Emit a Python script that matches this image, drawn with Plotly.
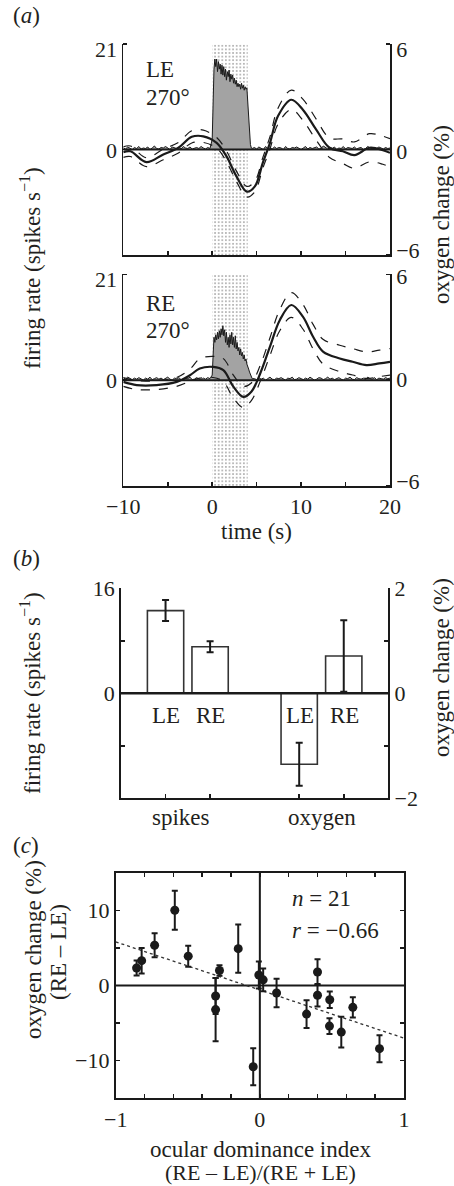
import numpy as np
import plotly.graph_objects as go

W, H = 454, 1186
FONT = "Liberation Serif"
TXT = "#231f20"

def X(px):
    return px / W

def Y(py):
    return 1 - py / H

# ---------------- Panel (a) data ----------------
# spike-rate histograms (spikes/s)
le_pre = [0.3,0.1,0.5,0.2,0.0,0.4,0.2,0.6,0.1,0.3,0.2,0.5,0.0,0.3,0.7,0.2,0.1,0.4,0.3,0.6,
          0.2,0.0,0.5,0.3,0.2,0.4,0.1,0.6,0.3,0.2,0.5,0.1,0.3,0.4,0.2,0.6,0.3,0.1,0.4,0.2]
le_stim = [2,10,16,18,16.5,18,15.5,17.5,16,17,15,16.8,14.8,16.5,14.5,16,13.8,15.5,14.5,15.8,
           13.5,15,14,14.8,13.2,14.2,13,13.8,12.5,13.2,12.5,13,12,13.2,12.2,12.8,11.8,12.5,12,12.3,
           9,6,3.5,1,0.3]
le_post = [0.2,0.4,0.1,0.5,0.3,0.0,0.6,0.2,0.3,0.1,0.5,0.2,0.4,0.3,0.0,0.6,0.2,0.1,0.4,0.3,
           0.5,0.2,0.0,0.3,0.6,0.1,0.4,0.2,0.3,0.5,0.1,0.2,0.7,0.3,0.1,0.4,0.2,0.5,0.0,0.3,
           0.2,0.6,0.1,0.4,0.3,0.2,0.5,0.1,0.3,0.4,0.0,0.2,0.6,0.3,0.1,0.4,0.2,0.5,0.3,0.1,0.4,0.2,0.3]

re_pre = [0.5,0.2,0.6,0.3,0.1,0.4,0.2,0.5,0.3,0.0,0.4,0.2,0.6,0.1,0.3,0.5,0.2,0.4,0.1,0.3,
          0.6,0.2,0.0,0.4,0.3,0.5,0.1,0.2,0.4,0.3,0.6,0.1,0.2,0.5,0.3,0.0,0.4,0.2,0.5,0.3]
re_stim = [1,6,8.5,7.5,9,8,9.5,8.2,9.8,8.5,10.2,9,10.8,8.8,10,7.5,9.5,7,8.5,6.5,
           9,7.2,9.5,7,8.5,6.5,8.8,6.2,7.5,5.8,6.5,5,6.2,4.8,5.5,4.2,5,3.8,4.2,3.2,
           2.8,2.2,1.6,1.1,0.6,0.3]
re_post = [0.3,0.1,0.5,0.2,0.4,0.0,0.3,0.6,0.2,0.1,0.4,0.3,0.5,0.2,0.0,0.4,0.3,0.6,0.1,0.2,
           0.5,0.3,0.1,0.4,0.2,0.6,0.3,0.0,0.2,0.5,0.4,0.1,0.3,0.6,0.2,0.4,0.1,0.3,0.5,0.2,
           0.0,0.4,0.3,0.6,0.2,0.1,0.5,0.3,0.2,0.4,0.1,0.6,0.3,0.2,0.5,0.1,0.4,0.3,0.2,0.5,0.3,0.4]

# oxygen change (%) mean and SEM, LE
ox_t_le = [-10,-9.2,-7.4,-5.5,-3.8,-2.3,-1.0,0.5,1.6,2.7,3.9,4.8,5.7,6.5,7.4,8.9,10.2,11.7,13.2,14.7,16.0,17.7,19.2,20]
ox_le   = [-0.15,-0.1,-0.72,-0.28,0.1,0.72,0.75,0.38,-0.38,-1.5,-2.4,-2.1,-0.75,0.38,1.9,2.83,2.26,1.13,0.1,-0.1,-0.32,0.1,-0.04,-0.19]
sem_le  = [0.3,0.3,0.25,0.3,0.3,0.35,0.35,0.3,0.3,0.3,0.3,0.3,0.3,0.35,0.45,0.55,0.6,0.6,0.55,0.7,0.75,0.8,0.8,0.8]

# oxygen change (%) mean and SEM, RE
ox_t_re = [-10,-8.5,-6.25,-4,-2.5,-1.4,0.1,1.25,2.4,3.5,4.4,5.4,6.5,7.6,8.9,10.2,11.35,12.5,14.35,15.8,17.35,18.8,20]
ox_re   = [-0.1,-0.28,-0.28,-0.1,0.28,0.66,0.75,0.57,-0.38,-0.95,-0.66,0.38,1.9,3.4,4.26,3.6,2.46,1.6,1.23,1.04,0.85,0.95,1.04]
sem_re  = [0.25,0.25,0.25,0.25,0.35,0.55,0.6,0.65,0.65,0.6,0.5,0.45,0.5,0.6,0.7,0.7,0.7,0.7,0.75,0.75,0.75,0.75,0.75]

stim_on, stim_off = 0, 4

# ---------------- Panel (b) data ----------------
b_labels = ["LE", "RE", "LE", "RE"]
spk_mean = [12.6, 7.1]
spk_err = [1.6, 0.85]
oxb_mean = [-1.35, 0.71]
oxb_err = [0.41, 0.68]

# ---------------- Panel (c) data ----------------
odi = [-0.855,-0.82,-0.73,-0.59,-0.497,-0.28,-0.15,-0.007,0.023,0.40,0.116,-0.307,-0.307,
       -0.046,0.324,0.40,0.485,0.483,0.565,0.645,0.83]
oxd = [2.33,3.3,5.35,10.0,3.9,2.0,4.9,1.4,0.75,1.8,-1.0,-1.4,-3.2,
       -10.8,-3.8,-1.3,-1.9,-5.4,-6.2,-2.9,-8.4]
oxd_err = [1.0,1.7,1.6,2.6,1.4,0.7,3.2,1.8,1.5,1.7,1.9,2.4,4.2,
           2.45,1.85,1.5,1.1,1.05,2.05,1.35,1.8]
fit_x = [-1, 1]
fit_y = [5.8, -7.0]

# ---------------- build ----------------
def hist_series(pre, stim, post, post_start):
    t = np.concatenate([
        -10 + 0.25 * np.arange(len(pre)),
        0.1 * np.arange(len(stim)),
        post_start + 0.25 * np.arange(len(post)),
    ])
    v = np.concatenate([pre, stim, post])
    return t, v

t_le, r_le = hist_series(le_pre, le_stim, le_post, 4.5)
t_re, r_re = hist_series(re_pre, re_stim, re_post, 4.75)

fig = go.Figure()

def add_time_panel(xa, ya_left, ya_right, t, r, ot, om, osem):
    fig.add_trace(go.Bar(
        x=[(stim_on + stim_off) / 2], y=[42], base=[-21], width=[stim_off - stim_on],
        xaxis=xa, yaxis=ya_left,
        marker=dict(color="white", line=dict(width=0),
                    pattern=dict(shape=".", fgcolor="#4a4a4a", bgcolor="white",
                                 size=3.6, solidity=0.1)),
        showlegend=False, hoverinfo="skip"))
    fig.add_trace(go.Scatter(
        x=t, y=r, xaxis=xa, yaxis=ya_left, mode="lines",
        line=dict(color="#1a1a1a", width=1), fill="tozeroy", fillcolor="#a3a3a3",
        showlegend=False, hoverinfo="skip"))
    up = [m + s for m, s in zip(om, osem)]
    lo = [m - s for m, s in zip(om, osem)]
    for yy, dash, wdt in ((up, "dash", 1.2), (lo, "dash", 1.2), (om, "solid", 2.2)):
        fig.add_trace(go.Scatter(
            x=ot, y=yy, xaxis=xa, yaxis=ya_right, mode="lines",
            line=dict(color="#1a1a1a", width=wdt, dash=dash, shape="spline", smoothing=1.0),
            showlegend=False, hoverinfo="skip"))

add_time_panel("x", "y", "y2", t_le, r_le, ox_t_le, ox_le, sem_le)
add_time_panel("x2", "y3", "y4", t_re, r_re, ox_t_re, ox_re, sem_re)

bar_pos = [1, 2, 4, 5]
bar_w = 0.815
fig.add_trace(go.Bar(
    x=bar_pos[:2], y=spk_mean, width=[bar_w] * 2, xaxis="x3", yaxis="y5",
    marker=dict(color="white", line=dict(color="#333333", width=1.6)),
    error_y=dict(type="data", array=spk_err, color="#1a1a1a", thickness=2, width=3.5),
    showlegend=False, hoverinfo="skip"))
fig.add_trace(go.Bar(
    x=bar_pos[2:], y=oxb_mean, width=[bar_w] * 2, xaxis="x3", yaxis="y6",
    marker=dict(color="white", line=dict(color="#333333", width=1.6)),
    error_y=dict(type="data", array=oxb_err, color="#1a1a1a", thickness=2, width=3.5),
    showlegend=False, hoverinfo="skip"))

fig.add_trace(go.Scatter(
    x=fit_x, y=fit_y, xaxis="x4", yaxis="y7", mode="lines",
    line=dict(color="#333333", width=1.3, dash="dot"), showlegend=False, hoverinfo="skip"))
fig.add_trace(go.Scatter(
    x=odi, y=oxd, xaxis="x4", yaxis="y7", mode="markers",
    marker=dict(color="#1a1a1a", size=9),
    error_y=dict(type="data", array=oxd_err, color="#1a1a1a", thickness=2, width=3),
    showlegend=False, hoverinfo="skip"))

FS = 22      # tick labels
FT = 23      # titles / annotations
tickfont = dict(family=FONT, size=FS, color=TXT)
base = dict(showline=True, linecolor="#1a1a1a", linewidth=1.8, showgrid=False,
            zeroline=False, tickfont=tickfont, fixedrange=True, automargin=False)
common = dict(ticks="inside", ticklen=4, tickwidth=1.5, tickcolor="#1a1a1a", **base)

def minor(vals):
    return dict(tickvals=vals, ticks="inside", ticklen=4, tickwidth=1.5,
                tickcolor="#1a1a1a", showgrid=False)

def edge_axis(tick_at, label_at, labels, **kw):
    # tick marks drawn at tick_at; labels nudged inward like the original figure
    return dict(ticks="", tickvals=label_at, ticktext=labels,
                minor=minor(tick_at), **base, **kw)

ax_a = [X(123.3), X(390)]
layout = dict(
    template="none",
    width=W, height=H, margin=dict(l=0, r=0, t=0, b=0, pad=0, autoexpand=False),
    paper_bgcolor="white", plot_bgcolor="rgba(0,0,0,0)",
    barmode="overlay", showlegend=False,
    font=dict(family=FONT, color=TXT, size=FS),
    xaxis=dict(domain=ax_a, anchor="y", range=[-10, 20], tickvals=[-10, 0, 10, 20],
               showticklabels=False, minor=minor([-5, 5, 15]), **common),
    yaxis=edge_axis([0, 21], [-0.15, 19.9], ["0", "21"],
                    domain=[Y(255), Y(44)], anchor="x", range=[-21, 21]),
    yaxis2=edge_axis([-6, 0, 6], [-5.72, -0.08, 5.72], ["\u22126", "0", "6"],
                     overlaying="y", side="right", anchor="x", range=[-6, 6]),
    xaxis2=dict(domain=ax_a, anchor="y3", range=[-10, 20], tickvals=[-10, 0, 10, 20],
                ticktext=["\u221210", "0", "10", "20"], minor=minor([-5, 5, 15]), **common),
    yaxis3=edge_axis([0, 21], [0.05, 20.1], ["0", "21"],
                     domain=[Y(486), Y(274.3)], anchor="x2", range=[-21, 21]),
    yaxis4=edge_axis([-6, 0, 6], [-5.76, 0.05, 5.9], ["\u22126", "0", "6"],
                     overlaying="y3", side="right", anchor="x2", range=[-6, 6]),
    xaxis3=dict(domain=[X(121), X(388.3)], anchor="y5", range=[0, 6],
                tickvals=bar_pos, showticklabels=False, **common),
    yaxis5=dict(domain=[Y(798.3), Y(588.3)], anchor="x3", range=[-16, 16],
                tickvals=[0, 16], ticktext=["0", "16"], minor=minor([-8, 8]), **common),
    yaxis6=dict(overlaying="y5", side="right", anchor="x3", range=[-2, 2],
                tickvals=[-2, 0, 2], ticktext=["\u22122", "0", "2"], minor=minor([-1, 1]), **common),
    xaxis4=dict(domain=[X(115.7), X(404)], anchor="y7", range=[-1, 1],
                tickvals=[-1, 0, 1], ticktext=["\u22121", "0", "1"],
                minor=minor([-0.8, -0.6, -0.4, -0.2, 0.2, 0.4, 0.6, 0.8]),
                mirror="ticks", **common),
    yaxis7=dict(domain=[Y(1098.3), Y(872.7)], anchor="x4", range=[-15, 15],
                tickvals=[-10, 0, 10], ticktext=["\u221210", "0", "10"],
                minor=minor([-5, 5]), mirror="ticks", **common),
)

shapes = []
for xr, yr in (("x", "y"), ("x2", "y3")):
    shapes.append(dict(type="line", xref=xr, yref=yr, x0=-10, x1=20, y0=0, y1=0,
                       line=dict(color="#1a1a1a", width=2), layer="above"))
shapes.append(dict(type="line", xref="x3", yref="y5", x0=0, x1=6, y0=0, y1=0,
                   line=dict(color="#1a1a1a", width=2.5), layer="above"))
shapes.append(dict(type="line", xref="x4", yref="y7", x0=-1, x1=1, y0=0, y1=0,
                   line=dict(color="#1a1a1a", width=2), layer="below"))
shapes.append(dict(type="line", xref="x4", yref="y7", x0=0, x1=0, y0=-15, y1=15,
                   line=dict(color="#1a1a1a", width=2), layer="below"))
layout["shapes"] = shapes

def ann(text, px, py, size=FT, angle=0, xanchor="center", yanchor="middle"):
    return dict(text=text, x=X(px), y=Y(py), xref="paper", yref="paper",
                showarrow=False, textangle=angle, xanchor=xanchor, yanchor=yanchor,
                font=dict(family=FONT, size=size, color=TXT))

anns = [
    ann("(<i>a</i>)", 11, 16, xanchor="left"),
    ann("(<i>b</i>)", 11, 558, xanchor="left"),
    ann("(<i>c</i>)", 11, 845, xanchor="left"),
    ann("LE", 144, 70, xanchor="left"),
    ann("270°", 144, 98, xanchor="left"),
    ann("RE", 144, 303, xanchor="left"),
    ann("270°", 144, 330, xanchor="left"),
    ann("firing rate (spikes s<sup>\u22121</sup>)", 30, 268, angle=-90),
    ann("oxygen change (%)", 441, 215, angle=-90),
    ann("time (s)", 256, 531),
    ann("firing rate (spikes s<sup>\u22121</sup>)", 30, 693, angle=-90),
    ann("oxygen change (%)", 441, 668, angle=-90),
    ann("spikes", 181, 817),
    ann("oxygen", 322, 817),
    ann("oxygen change (%)", 33, 950, angle=-90),
    ann("(RE \u2013 LE)", 58, 952, angle=-90),
    ann("ocular dominance index", 260, 1149),
    ann("(RE \u2013 LE)/(RE + LE)", 260, 1172, size=22),
    ann("<i>n</i> = 21", 290, 898, xanchor="left"),
    ann("<i>r</i> = \u22120.66", 290, 930, xanchor="left"),
]
for lab, xpos in zip(b_labels, [165.8, 210.7, 299.7, 344.2]):
    anns.append(ann(lab, xpos, 715))
layout["annotations"] = anns

fig.update_layout(**layout)
fig.write_html("out.html", config={"displayModeBar": False, "staticPlot": True},
               post_script="document.body.style.margin='0';")
